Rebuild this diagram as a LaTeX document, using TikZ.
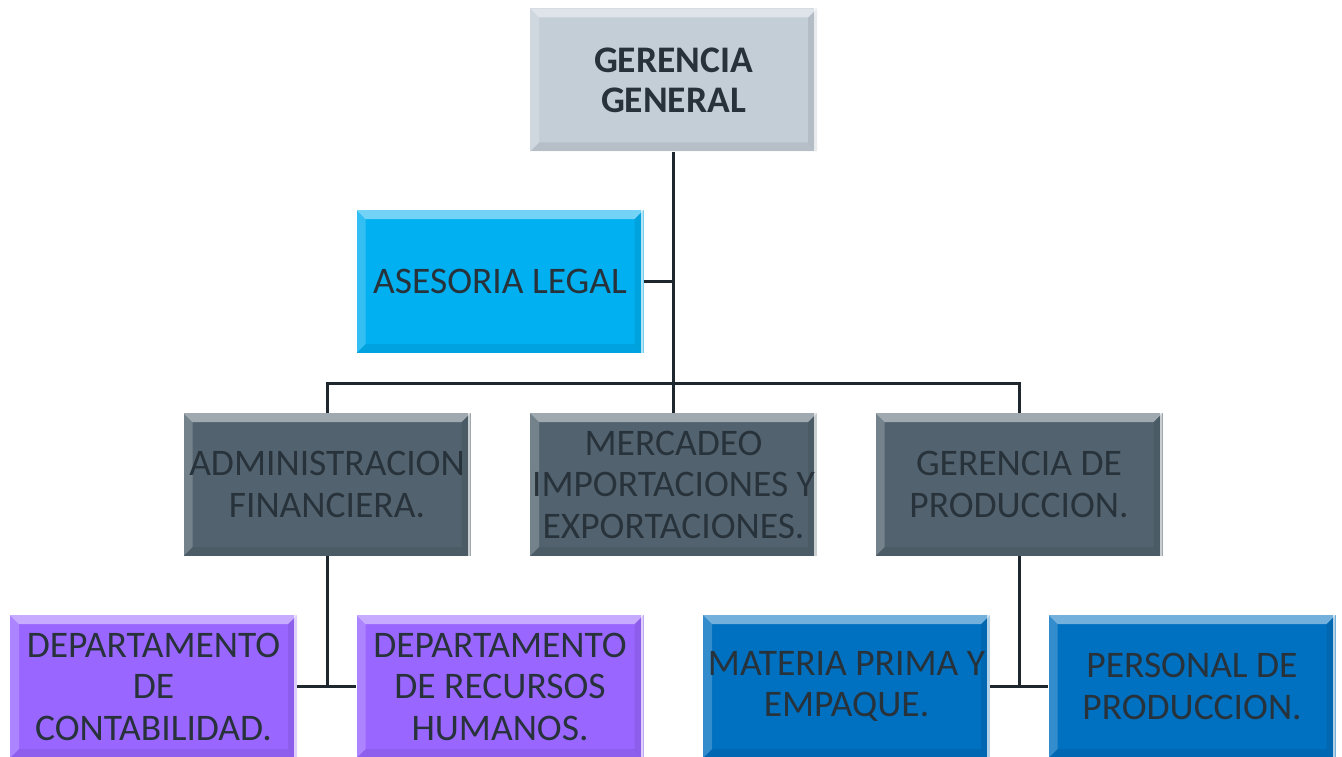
\documentclass[tikz,border=0pt]{standalone}
\usepackage{fontspec}
\setmainfont{Carlito}
\usepackage{xcolor}
\usepackage{tikz}

\definecolor{ggfill}{HTML}{C4CED7}
\definecolor{legalfill}{HTML}{00B0F0}
\definecolor{areafill}{HTML}{52636F}
\definecolor{depfill}{HTML}{9966FF}
\definecolor{prodfill}{HTML}{0070C0}
\definecolor{inkdark}{HTML}{28323B}
\definecolor{linedark}{HTML}{1E272E}

\tikzset{
  caja/.style={draw=none, rectangle, minimum width=287pt, minimum height=143pt,
    inner sep=0pt, align=center, text=inkdark,
    font=\fontsize{37.5}{41.5}\selectfont,
    path picture={
      \fill[white, opacity=0.45] (path picture bounding box.north west) -- (path picture bounding box.north east)
        -- ([xshift=-9pt,yshift=-9pt]path picture bounding box.north east) -- ([xshift=9pt,yshift=-9pt]path picture bounding box.north west) -- cycle;
      \fill[white, opacity=0.2] (path picture bounding box.north west) -- ([xshift=9pt,yshift=-9pt]path picture bounding box.north west)
        -- ([xshift=9pt,yshift=9pt]path picture bounding box.south west) -- (path picture bounding box.south west) -- cycle;
      \fill[black, opacity=0.07] (path picture bounding box.south west) -- (path picture bounding box.south east)
        -- ([xshift=-9pt,yshift=9pt]path picture bounding box.south east) -- ([xshift=9pt,yshift=9pt]path picture bounding box.south west) -- cycle;
      \fill[black, opacity=0.08] (path picture bounding box.north east) -- ([xshift=-9pt,yshift=-9pt]path picture bounding box.north east)
        -- ([xshift=-9pt,yshift=9pt]path picture bounding box.south east) -- (path picture bounding box.south east) -- cycle;
      \fill[white, opacity=0.7] ([xshift=-3pt]path picture bounding box.north east) rectangle (path picture bounding box.south east);
    }},
  conn/.style={draw=linedark, line width=3pt}
}

\begin{document}
\begin{tikzpicture}[x=1pt, y=-1pt]
  \useasboundingbox[fill=white] (0,0) rectangle (1342,757);

  \node[caja, fill=ggfill, font=\fontsize{37.5}{40}\selectfont\bfseries] (gg) at (673.5,80) {GERENCIA\\GENERAL};
  \node[caja, fill=legalfill] (legal) at (500,281.5) {ASESORIA LEGAL};
  \node[caja, fill=areafill] (admin) at (327,484.5) {ADMINISTRACION\\FINANCIERA.};
  \node[caja, fill=areafill] (merc) at (673.5,484.5) {MERCADEO\\IMPORTACIONES Y\\EXPORTACIONES.};
  \node[caja, fill=areafill] (prod) at (1019,484.5) {GERENCIA DE\\PRODUCCION.};
  \node[caja, fill=depfill] (cont) at (153.5,686.5) {DEPARTAMENTO\\DE\\CONTABILIDAD.};
  \node[caja, fill=depfill] (rrhh) at (500,686.5) {DEPARTAMENTO\\DE RECURSOS\\HUMANOS.};
  \node[caja, fill=prodfill] (mat) at (846.5,686.5) {MATERIA PRIMA Y\\EMPAQUE.};
  \node[caja, fill=prodfill] (pers) at (1192,686.5) {PERSONAL DE\\PRODUCCION.};

  \coordinate (bus) at (673.5,383);

  \draw[conn] (gg.south) -- (merc.north);
  \draw[conn] (legal.east) -- (legal.east -| gg.south);
  \draw[conn] (admin.north) |- (bus) -| (prod.north);
  \draw[conn] (admin.south) -- (admin.south |- cont.east);
  \draw[conn] (cont.east) -- (rrhh.west);
  \draw[conn] (prod.south) -- (prod.south |- mat.east);
  \draw[conn] (mat.east) -- (pers.west);
\end{tikzpicture}
\end{document}
